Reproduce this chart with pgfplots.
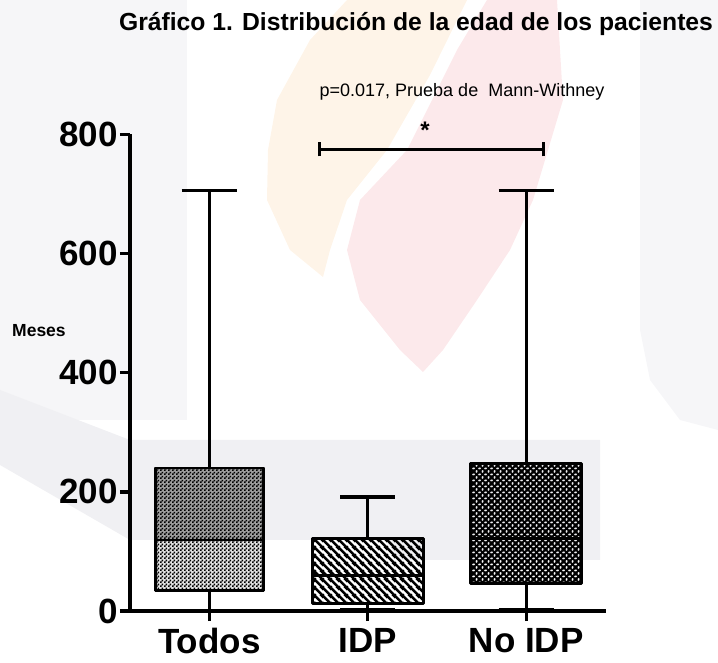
\documentclass[border=0pt]{standalone}
\usepackage{pgfplots}
\pgfplotsset{compat=1.18}
\usetikzlibrary{patterns}
\usepackage{fontspec}
\setmainfont{Liberation Sans}
\definecolor{wmgrey}{HTML}{F6F6F8}
\definecolor{wmband}{HTML}{F0F0F3}
\definecolor{wmorange}{HTML}{FEF4E8}
\definecolor{wmpink}{HTML}{FCE9EB}
\pgfdeclarepatternformonly{checker}{\pgfpointorigin}{\pgfqpoint{4bp}{4bp}}{\pgfqpoint{4bp}{4bp}}{%
 \pgfpathrectangle{\pgfpointorigin}{\pgfqpoint{2bp}{2bp}}%
 \pgfpathrectangle{\pgfqpoint{2bp}{2bp}}{\pgfqpoint{2bp}{2bp}}%
 \pgfusepath{fill}}
\pgfdeclarepatternformonly{diagNW}{\pgfpointorigin}{\pgfqpoint{7.5bp}{7.5bp}}{\pgfqpoint{7.5bp}{7.5bp}}{%
 \pgfsetlinewidth{2.6bp}%
 \pgfpathmoveto{\pgfqpoint{-1bp}{8.5bp}}\pgfpathlineto{\pgfqpoint{8.5bp}{-1bp}}%
 \pgfpathmoveto{\pgfqpoint{-2bp}{2bp}}\pgfpathlineto{\pgfqpoint{2bp}{-2bp}}%
 \pgfpathmoveto{\pgfqpoint{5.5bp}{9.5bp}}\pgfpathlineto{\pgfqpoint{9.5bp}{5.5bp}}%
 \pgfusepath{stroke}}
\pgfdeclarepatternformonly{xhatch}{\pgfpointorigin}{\pgfqpoint{6bp}{6bp}}{\pgfqpoint{6bp}{6bp}}{%
 \pgfsetlinewidth{2.1bp}%
 \pgfpathmoveto{\pgfqpoint{-1bp}{7bp}}\pgfpathlineto{\pgfqpoint{7bp}{-1bp}}%
 \pgfpathmoveto{\pgfqpoint{-1bp}{-1bp}}\pgfpathlineto{\pgfqpoint{7bp}{7bp}}%
 \pgfpathmoveto{\pgfqpoint{-2bp}{2bp}}\pgfpathlineto{\pgfqpoint{2bp}{-2bp}}%
 \pgfpathmoveto{\pgfqpoint{4bp}{8bp}}\pgfpathlineto{\pgfqpoint{8bp}{4bp}}%
 \pgfpathmoveto{\pgfqpoint{-2bp}{4bp}}\pgfpathlineto{\pgfqpoint{2bp}{8bp}}%
 \pgfpathmoveto{\pgfqpoint{4bp}{-2bp}}\pgfpathlineto{\pgfqpoint{8bp}{2bp}}%
 \pgfusepath{stroke}}
\begin{document}
\begin{tikzpicture}
\useasboundingbox (-130bp,-52bp) rectangle (588bp,611bp);
% faint watermark
\fill[wmgrey] (-130bp,611bp) -- (57bp,611bp) -- (57bp,191bp) -- (-130bp,191bp) -- cycle;
\fill[wmgrey] (510bp,611bp) -- (588bp,611bp) -- (588bp,181bp) -- (550bp,191bp) -- (520bp,231bp) -- (510bp,281bp) -- cycle;
\fill[wmband] (-130bp,221bp) -- (0bp,171bp) -- (470bp,171bp) -- (470bp,51bp) -- (270bp,51bp) -- (255bp,71bp) -- (0bp,71bp) -- (-130bp,146bp) -- cycle;
\fill[wmorange] (217bp,611bp) -- (337bp,611bp) -- (300bp,536bp) -- (257bp,461bp) -- (217bp,411bp) -- (200bp,361bp) -- (193bp,334bp) -- (160bp,361bp) -- (137bp,411bp) -- (138bp,461bp) -- (147bp,511bp) -- (180bp,571bp) -- cycle;
\fill[wmpink] (357bp,611bp) -- (427bp,611bp) -- (433bp,511bp) -- (403bp,411bp) -- (380bp,361bp) -- (347bp,311bp) -- (313bp,261bp) -- (293bp,239bp) -- (270bp,261bp) -- (230bp,311bp) -- (217bp,361bp) -- (230bp,411bp) -- (277bp,461bp) -- (327bp,561bp) -- cycle;
\begin{axis}[
  at={(0,0)}, anchor=south west,
  scale only axis, width=475.5bp, height=476.7bp,
  xmin=-0.5, xmax=2.5, ymin=0, ymax=800,
  axis x line*=bottom, axis y line*=left,
  axis line style={line width=3.6bp, black},
  xtick={0,1,2}, xticklabels={Todos,IDP,No IDP},
  ytick={0,200,400,600,800},
  tick align=outside,
  major tick length=10bp,
  tick style={line width=3.4bp, black},
  /pgf/number format/assume math mode=true,
  yticklabel style={font=\fontsize{35bp}{40bp}\selectfont\bfseries, inner sep=0pt, xshift=-2bp},
  xticklabel style={font=\fontsize{35bp}{40bp}\selectfont\bfseries, inner sep=0pt, yshift=-7bp},
  clip=false,
  wh/.style={black, solid, mark=none, line width=2.8bp},
  bx/.style={black, solid, mark=none, line width=2.8bp, line join=round},
]
% Todos: min 1, Q1 35, median 119, Q3 240, max 706
\addplot[wh] coordinates {(0,240) (0,706)};
\addplot[wh] coordinates {(-0.175,706) (0.175,706)};
\addplot[wh] coordinates {(0,35) (0,1)};
\addplot[bx, preaction={fill=black!38}, pattern=checker] coordinates {(-0.34,119) (0.34,119) (0.34,240) (-0.34,240)} -- cycle;
\addplot[bx, preaction={fill=black!12}, pattern=checker] coordinates {(-0.34,35) (0.34,35) (0.34,119) (-0.34,119)} -- cycle;
% IDP: min 3, Q1 12, median 60, Q3 121, max 191
\addplot[wh] coordinates {(1,121) (1,191)};
\addplot[wh, line width=3.6bp] coordinates {(0.825,191) (1.175,191)};
\addplot[wh] coordinates {(1,12) (1,3)};
\addplot[wh] coordinates {(0.825,3) (1.175,3)};
\addplot[bx, pattern=diagNW] coordinates {(0.65,12) (1.35,12) (1.35,121) (0.65,121)} -- cycle;
\addplot[wh] coordinates {(0.65,60) (1.35,60)};
% No IDP: min 2, Q1 46, median 122, Q3 248, max 706
\addplot[wh] coordinates {(2,248) (2,706)};
\addplot[wh, line width=3.6bp] coordinates {(1.825,706) (2.175,706)};
\addplot[wh] coordinates {(2,46) (2,2)};
\addplot[wh] coordinates {(1.825,2) (2.175,2)};
\addplot[bx, pattern=xhatch] coordinates {(1.65,46) (2.35,46) (2.35,248) (1.65,248)} -- cycle;
\addplot[wh] coordinates {(1.65,122) (2.35,122)};
% significance bar
\addplot[wh] coordinates {(0.696,775) (2.108,775)};
\addplot[wh] coordinates {(0.696,763) (0.696,787)};
\addplot[wh] coordinates {(2.108,763) (2.108,787)};
\end{axis}
\node[anchor=base, font=\fontsize{24.7bp}{28bp}\selectfont\bfseries, inner sep=0pt] at (286bp,580bp) {Gráfico 1. Distribución de la edad de los pacientes};
\node[anchor=base, font=\fontsize{18bp}{21bp}\selectfont, inner sep=0pt] at (332bp,514bp) {p=0.017, Prueba de\ \ Mann-Withney};
\node[anchor=base, font=\fontsize{24bp}{28bp}\selectfont\bfseries, inner sep=0pt] at (295bp,472bp) {*};
\node[anchor=base west, font=\fontsize{17.5bp}{20bp}\selectfont\bfseries, inner sep=0pt] at (-118bp,274bp) {Meses};
\end{tikzpicture}
\end{document}
